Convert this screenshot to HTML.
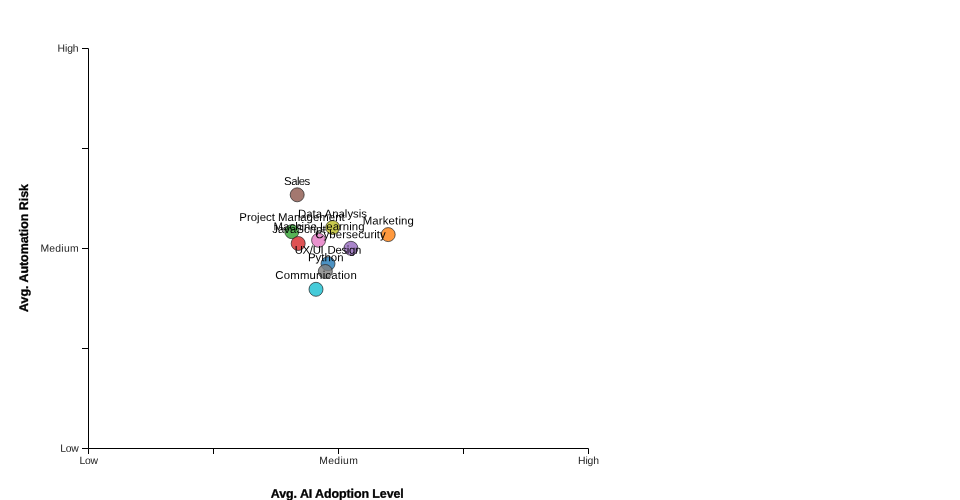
<!DOCTYPE html>
<html><head><meta charset="utf-8">
<style>
html,body{margin:0;padding:0;background:#fff;}
body{width:960px;height:500px;overflow:hidden;font-family:"Liberation Sans",sans-serif;}
svg{display:block}
text{font-family:"Liberation Sans",sans-serif}
.tick text{font-size:10.4px;fill:#222}
.lbl text{font-size:11.4px;fill:#000}
.axl{font-size:12.45px;font-weight:bold;fill:#000;stroke:#000;stroke-width:.3px}
circle{stroke:#222;stroke-width:.7;fill-opacity:.8}
</style></head><body>
<svg width="960" height="500" viewBox="0 0 960 500">
<g fill="none" stroke="#000" stroke-width="1">
<path d="M82,48.5H88.5V448.5H82"/>
<path d="M82,148.5H88M82,248.5H88M82,348.5H88"/>
<path d="M88.5,454V448.5H588.5V454"/>
<path d="M213.5,448V454M338.5,448V454M463.5,448V454"/>
</g>
<g class="tick">
<text transform="translate(78.6,51.7) rotate(0.04)" text-anchor="end" textLength="21" lengthAdjust="spacing">High</text>
<text transform="translate(78.6,251.7) rotate(0.04)" text-anchor="end" textLength="38.2" lengthAdjust="spacing">Medium</text>
<text transform="translate(78.8,451.7) rotate(0.04)" text-anchor="end" textLength="18.6" lengthAdjust="spacing">Low</text>
<text transform="translate(88.8,464.1) rotate(0.04)" text-anchor="middle" textLength="18.6" lengthAdjust="spacing">Low</text>
<text transform="translate(338.5,464.1) rotate(0.04)" text-anchor="middle" textLength="38.6" lengthAdjust="spacing">Medium</text>
<text transform="translate(588.5,464.1) rotate(0.04)" text-anchor="middle" textLength="21" lengthAdjust="spacing">High</text>
</g>
<text class="axl" transform="translate(337.3,497.8) rotate(0.04)" text-anchor="middle" textLength="133" lengthAdjust="spacing">Avg. AI Adoption Level</text>
<text class="axl" transform="translate(28,248) rotate(-89.96)" text-anchor="middle" textLength="128" lengthAdjust="spacing">Avg. Automation Risk</text>
<g>
<circle cx="328" cy="263.7" r="7" fill="#1f77b4"/>
<circle cx="388.2" cy="234.6" r="7" fill="#ff7f0e"/>
<circle cx="291.8" cy="231.7" r="7" fill="#2ca02c"/>
<circle cx="298.2" cy="243.5" r="7" fill="#d62728"/>
<circle cx="350.9" cy="248.3" r="7" fill="#9467bd"/>
<circle cx="297.2" cy="194.8" r="7" fill="#8c564b"/>
<circle cx="318.6" cy="240.3" r="7" fill="#e377c2"/>
<circle cx="325.3" cy="271.5" r="7" fill="#7f7f7f"/>
<circle cx="332.7" cy="227.5" r="7" fill="#bcbd22"/>
<circle cx="316" cy="289.3" r="7" fill="#17becf"/>
</g>
<g class="lbl">
<text transform="translate(328,253.7) rotate(0.04)" text-anchor="middle" textLength="66.6" lengthAdjust="spacing">UX/UI <tspan dx="1.4">Design</tspan></text>
<text transform="translate(388.3,224.6) rotate(0.04)" text-anchor="middle" textLength="51.2" lengthAdjust="spacing">Marketing</text>
<text transform="translate(292,221) rotate(0.04)" text-anchor="middle" textLength="105.4" lengthAdjust="spacing">Project Management</text>
<text transform="translate(298.9,233) rotate(0.04)" text-anchor="middle" textLength="53.4" lengthAdjust="spacing">JavaScript</text>
<text transform="translate(350.5,238.2) rotate(0.04)" text-anchor="middle" textLength="70.6" lengthAdjust="spacing">Cybersecurity</text>
<text transform="translate(297.2,184.9) rotate(0.04)" text-anchor="middle" textLength="26.2" lengthAdjust="spacing">Sales</text>
<text transform="translate(319,230.3) rotate(0.04)" text-anchor="middle" textLength="91" lengthAdjust="spacing">Machine Learning</text>
<text transform="translate(325.7,261.2) rotate(0.04)" text-anchor="middle" textLength="35.6" lengthAdjust="spacing">Python</text>
<text transform="translate(332.5,217.6) rotate(0.04)" text-anchor="middle" textLength="69" lengthAdjust="spacing">Data Analysis</text>
<text transform="translate(316,279) rotate(0.04)" text-anchor="middle" textLength="81.5" lengthAdjust="spacing">Communication</text>
</g>
</svg>
</body></html>
